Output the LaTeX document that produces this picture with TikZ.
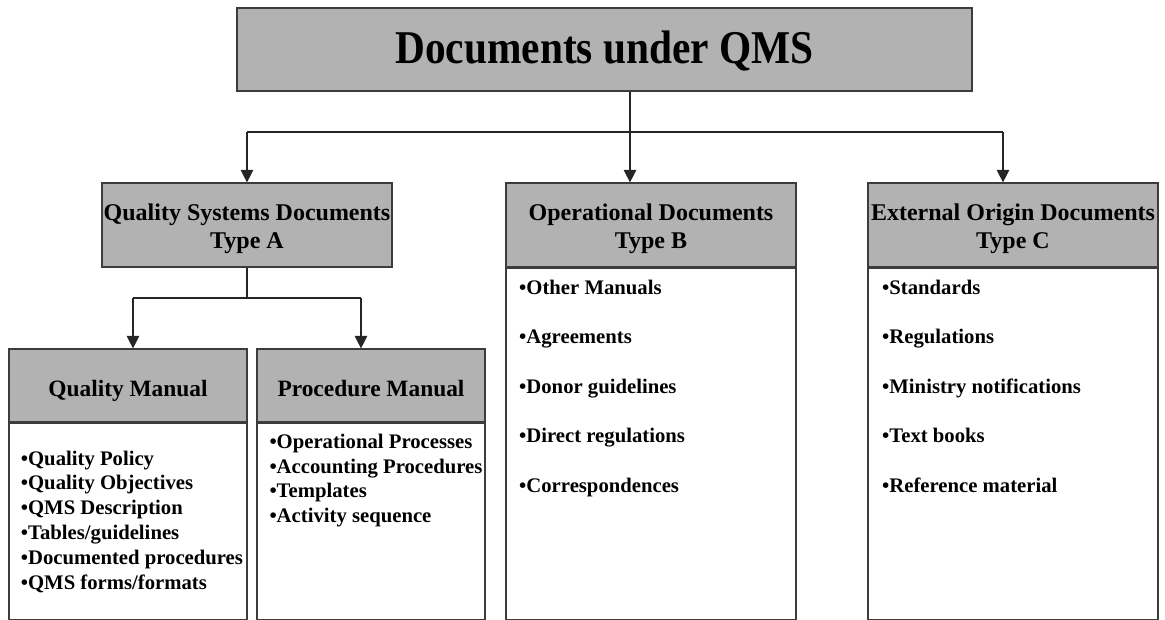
\documentclass[tikz,border=0pt]{standalone}
\usepackage{fontspec}
\setmainfont{Liberation Serif}
\newfontfamily\titlefont[FakeStretch=0.88]{Liberation Serif}
\usetikzlibrary{arrows.meta}
\definecolor{boxgray}{HTML}{B2B2B2}
\definecolor{edgegray}{HTML}{3C3C3C}
\begin{document}
\begin{tikzpicture}[x=1pt,y=-1pt,
  hdr/.style={rectangle, draw=edgegray, fill=boxgray, line width=1.2pt, inner sep=0pt},
  bodybox/.style={rectangle, draw=edgegray, fill=white, line width=1.2pt, inner sep=0pt},
  link/.style={draw=black!85, line width=1.2pt},
  arr/.style={link, -{Triangle[length=12.5pt,width=12.5pt]}},
  headtxt/.style={anchor=base, inner sep=0pt, font=\fontsize{24}{28}\selectfont\bfseries},
  mantxt/.style={anchor=base, inner sep=0pt, font=\fontsize{23.4}{28}\selectfont\bfseries},
  itemtxt/.style={anchor=base west, inner sep=0pt, font=\fontsize{20.7}{24.8}\selectfont\bfseries}
]
\useasboundingbox (0,0) rectangle (1165,619);

% top box
\node[hdr, line width=2pt, minimum width=735pt, minimum height=83pt] (title) at (604.5,49) {};
\node[anchor=base, inner sep=0pt, font=\titlefont\fontsize{47}{50}\selectfont\bfseries] (titletext) at (604.5,63.3) {Documents under QMS};

% Type A
\node[hdr, minimum width=290pt, minimum height=84pt] (tah) at (247,225) {};
\node[headtxt] (tat1) at (247,220) {Quality Systems Documents};
\node[headtxt] (tat2) at (247,248) {Type A};

% Type B
\node[hdr, minimum width=290pt, minimum height=84pt] (tbh) at (651,225) {};
\node[bodybox, anchor=north, minimum width=290pt, minimum height=351pt] (tbb) at (tbh.south) {};
\node[headtxt] (tbt1) at (651,220) {Operational Documents};
\node[headtxt] (tbt2) at (651,248) {Type B};

% Type C
\node[hdr, minimum width=290pt, minimum height=84pt] (tch) at (1013,225) {};
\node[bodybox, anchor=north, minimum width=290pt, minimum height=351pt] (tcb) at (tch.south) {};
\node[headtxt] (tct1) at (1013,220) {External Origin Documents};
\node[headtxt] (tct2) at (1013,248) {Type C};

% Quality Manual
\node[hdr, minimum width=238pt, minimum height=73pt] (qmh) at (128,385.5) {};
\node[bodybox, anchor=north, minimum width=238pt, minimum height=196pt] (qmb) at (qmh.south) {};
\node[mantxt] (qmt) at (128,396.7) {Quality Manual};

% Procedure Manual
\node[hdr, minimum width=228pt, minimum height=73pt] (pmh) at (371,385.5) {};
\node[bodybox, anchor=north, minimum width=228pt, minimum height=196pt] (pmb) at (pmh.south) {};
\node[mantxt] (pmt) at (371,396.7) {Procedure Manual};

% lists
\foreach \t [count=\i] in {Quality Policy, Quality Objectives, QMS Description, Tables/guidelines, Documented procedures, QMS forms/formats}
  \node[itemtxt] (qmi\i) at (20.7,{465+24.8*(\i-1)}) {•\t};
\foreach \t [count=\i] in {Operational Processes, Accounting Procedures, Templates, Activity sequence}
  \node[itemtxt] (pmi\i) at (269.3,{448.3+24.8*(\i-1)}) {•\t};
\foreach \t [count=\i] in {Other Manuals, Agreements, Donor guidelines, Direct regulations, Correspondences}
  \node[itemtxt] (tbi\i) at (519,{294+49.5*(\i-1)}) {•\t};
\foreach \t [count=\i] in {Standards, Regulations, Ministry notifications, Text books, Reference material}
  \node[itemtxt] (tci\i) at (882,{294+49.5*(\i-1)}) {•\t};

% connectors
\coordinate (jm) at (630,132);
\coordinate (jc) at (1003,132);
\coordinate (sl) at (133,298);
\coordinate (sr) at (361,298);
\draw[link] (tah.north |- jm) -- (jc);
\draw[arr] (title.south -| jm) -- (tbh.north -| jm);
\draw[arr] (tah.north |- jm) -- (tah.north);
\draw[arr] (jc) -- (tch.north -| jc);
\draw[link] (tah.south) -- (tah.south |- sl);
\draw[link] (sl) -- (sr);
\draw[arr] (sl) -- (qmh.north -| sl);
\draw[arr] (sr) -- (pmh.north -| sr);
\end{tikzpicture}
\end{document}
